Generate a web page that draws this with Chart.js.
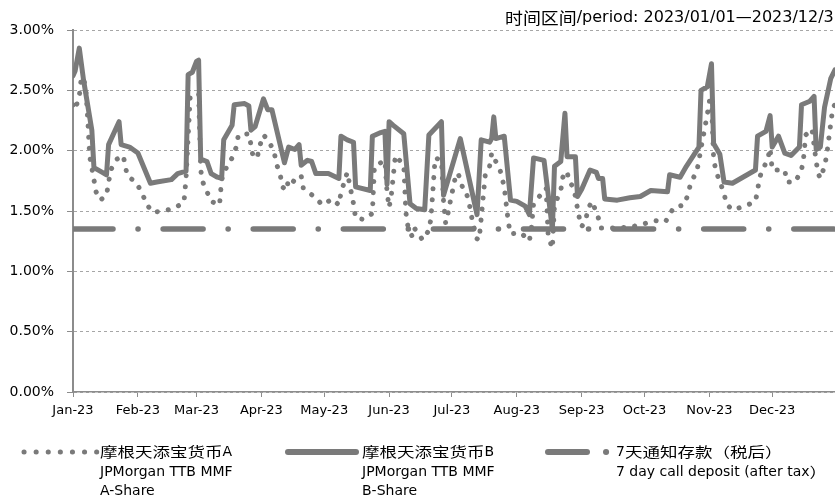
<!DOCTYPE html>
<html>
<head>
<meta charset="utf-8">
<script src="https://cdn.jsdelivr.net/npm/chart.js@4.4.1/dist/chart.umd.min.js"></script>
<style>
html, body { margin: 0; padding: 0; background: #fff; }
canvas { display: block; }
</style>
</head>
<body>
<canvas id="chart" width="835" height="498"></canvas>
<script>
// month axis (day of year 2023 where each month starts)
const monthLabels = ['Jan-23', 'Feb-23', 'Mar-23', 'Apr-23', 'May-23', 'Jun-23',
  'Jul-23', 'Aug-23', 'Sep-23', 'Oct-23', 'Nov-23', 'Dec-23'];
const monthStartDays = [0, 31, 59, 90, 120, 151, 181, 212, 243, 273, 304, 334];

// 摩根天添宝货币A - 7 day annualised yield, %
const shareADays = [0, 1, 3, 4, 6, 7, 8, 10, 11, 13, 16, 18, 21, 24, 25, 26, 30, 33, 35, 38,
  43, 48, 53, 54, 56, 60, 61, 62, 64, 66, 70, 71, 73, 76, 78, 79, 84, 85, 86, 88,
  89, 91, 93, 96, 97, 99, 100, 102, 103, 106, 109, 110, 112, 116, 119, 124, 127, 128, 131, 134,
  135, 139, 143, 144, 149, 150, 151, 152, 154, 158, 159, 160, 162, 163, 167, 170, 171, 173, 176, 177,
  178, 179, 180, 183, 184, 186, 187, 189, 190, 191, 193, 194, 197, 199, 200, 204, 206, 207, 208, 209,
  214, 218, 219, 220, 225, 226, 227, 229, 230, 233, 234, 236, 237, 239, 240, 241, 242, 243, 245, 246,
  248, 251, 252, 256, 261, 267, 272, 278, 283, 287, 292, 294, 295, 298, 299, 300, 303, 304, 305, 306,
  307, 309, 311, 312, 315, 321, 326, 327, 328, 332, 333, 334, 338, 340, 341, 345, 348, 349, 350, 353,
  355, 356, 357, 359, 360, 363, 364];
const shareAValues = [2.38, 2.34, 2.45, 2.61, 2.55, 2.27, 1.95, 1.76, 1.66, 1.59, 1.63, 1.84, 1.93, 1.96, 1.87, 1.79, 1.74, 1.65, 1.56, 1.49,
  1.50, 1.52, 1.57, 1.77, 2.45, 2.47, 1.84, 1.74, 1.66, 1.58, 1.55, 1.76, 1.85, 1.94, 2.03, 2.13, 2.14, 2.05, 1.95, 1.94,
  2.03, 2.13, 2.09, 2.00, 1.90, 1.80, 1.70, 1.67, 1.77, 1.74, 1.79, 1.69, 1.66, 1.61, 1.55, 1.60, 1.55, 1.65, 1.82, 1.56,
  1.44, 1.43, 1.48, 1.87, 1.92, 1.66, 1.53, 1.62, 1.96, 1.88, 1.49, 1.37, 1.29, 1.36, 1.26, 1.34, 1.44, 1.94, 1.92, 1.58,
  1.40, 1.47, 1.56, 1.81, 1.81, 1.70, 1.69, 1.59, 1.49, 1.40, 1.27, 1.26, 1.81, 1.87, 1.98, 1.84, 1.70, 1.55, 1.40, 1.31,
  1.32, 1.25, 1.36, 1.56, 1.67, 1.69, 1.29, 1.19, 1.55, 1.67, 1.78, 1.83, 1.74, 1.70, 1.62, 1.52, 1.43, 1.37, 1.43, 1.52,
  1.58, 1.44, 1.36, 1.36, 1.36, 1.37, 1.39, 1.42, 1.41, 1.53, 1.55, 1.65, 1.73, 1.83, 1.92, 2.02, 2.30, 2.41, 2.41, 1.94,
  1.84, 1.74, 1.65, 1.56, 1.51, 1.54, 1.58, 1.67, 1.78, 1.94, 2.02, 1.84, 1.84, 1.84, 1.74, 1.74, 1.84, 1.94, 2.13, 2.18,
  1.91, 1.81, 1.77, 1.87, 1.96, 2.36, 2.38];

// 摩根天添宝货币B
const shareBDays = [0, 1, 3, 5, 9, 10, 14, 16, 17, 22, 23, 27, 31, 37, 40, 47, 50, 54, 55, 57,
  59, 60, 61, 64, 66, 69, 71, 72, 76, 77, 82, 84, 85, 87, 91, 93, 95, 101, 103, 106,
  108, 109, 112, 114, 116, 122, 127, 128, 131, 134, 135, 142, 143, 147, 149, 150, 151, 153, 158, 161,
  164, 168, 170, 176, 177, 185, 193, 195, 199, 200, 201, 202, 206, 209, 212, 216, 218, 220, 225, 229,
  230, 233, 235, 236, 240, 241, 243, 247, 250, 251, 253, 254, 260, 266, 271, 276, 284, 285, 290, 293,
  299, 300, 303, 305, 306, 309, 311, 315, 326, 327, 331, 333, 334, 337, 340, 343, 347, 348, 352, 354,
  355, 357, 359, 362, 364];
const shareBValues = [2.62, 2.66, 2.85, 2.59, 2.17, 1.86, 1.82, 1.80, 2.05, 2.24, 2.05, 2.03, 1.98, 1.73, 1.74, 1.76, 1.81, 1.83, 2.63, 2.65,
  2.74, 2.75, 1.93, 1.91, 1.81, 1.78, 1.77, 2.09, 2.21, 2.38, 2.39, 2.37, 2.17, 2.20, 2.43, 2.34, 2.34, 1.90, 2.03, 2.01,
  2.05, 1.88, 1.92, 1.91, 1.81, 1.81, 1.77, 2.12, 2.09, 2.07, 1.70, 1.67, 2.12, 2.15, 2.16, 1.72, 2.24, 2.21, 2.14, 1.56,
  1.52, 1.51, 2.13, 2.24, 1.63, 2.10, 1.47, 2.09, 2.07, 2.10, 2.28, 2.10, 2.12, 1.59, 1.58, 1.54, 1.47, 1.94, 1.92, 1.35,
  1.87, 1.91, 2.31, 1.95, 1.95, 1.62, 1.68, 1.84, 1.82, 1.77, 1.77, 1.60, 1.59, 1.61, 1.62, 1.67, 1.66, 1.80, 1.78, 1.87,
  2.03, 2.50, 2.53, 2.72, 2.06, 1.97, 1.74, 1.73, 1.84, 2.12, 2.16, 2.29, 2.03, 2.12, 1.98, 1.96, 2.03, 2.38, 2.41, 2.45,
  2.01, 2.03, 2.36, 2.60, 2.67];

// 7天通知存款（税后）
const depositDays = [0, 364];
const depositValues = [1.35, 1.35];

const lineGrey = '#7a7a7a';
const axisGrey = '#8c8c8c';
const latinFont = "'DejaVu Sans'";
const cjkFont = "'Noto Sans CJK SC'";

function toPoints(days, values) {
  return days.map((d, i) => ({ x: d, y: values[i] }));
}

// draws latin runs as they are and CJK runs a little wider, like the source image
function drawMixed(ctx, text, x, y, size, cjkStretch) {
  const cjk = /[\u3000-\u9fff\uff00-\uffef]/;
  const runs = text.match(/[\u3000-\u9fff\uff00-\uffef]+|[^\u3000-\u9fff\uff00-\uffef]+/g);
  runs.forEach(run => {
    const isCjk = cjk.test(run);
    ctx.font = size + 'px ' + (isCjk ? cjkFont : latinFont);
    const sx = isCjk ? cjkStretch : 1;
    const w = ctx.measureText(run).width;
    ctx.save();
    ctx.translate(x, y);
    ctx.scale(sx, 1);
    ctx.fillText(run, 0, 0);
    ctx.restore();
    x += w * sx;
  });
}

function strokeLine(ctx, x1, y1, x2, y2) {
  ctx.beginPath();
  ctx.moveTo(x1, y1);
  ctx.lineTo(x2, y2);
  ctx.stroke();
}

const legendAndTitle = {
  id: 'legendAndTitle',
  afterDraw(chart) {
    const ctx = chart.ctx;
    ctx.save();
    ctx.fillStyle = '#000';
    ctx.textBaseline = 'middle';
    ctx.textAlign = 'left';
    drawMixed(ctx, '时间区间/period: 2023/01/01—2023/12/31', 505, 18, 16, 1.12);

    // legend samples
    ctx.strokeStyle = lineGrey;
    ctx.lineCap = 'round';
    ctx.lineWidth = 5;
    ctx.setLineDash([0.1, 12]);
    strokeLine(ctx, 24, 452, 97, 452);
    ctx.setLineDash([]);
    ctx.lineWidth = 6;
    strokeLine(ctx, 288, 452, 356, 452);
    strokeLine(ctx, 548, 452, 587, 452);
    strokeLine(ctx, 606, 452, 606.1, 452);

    drawMixed(ctx, '摩根天添宝货币A', 100, 452, 14, 1.25);
    drawMixed(ctx, 'JPMorgan TTB MMF', 100, 472, 14, 1.25);
    drawMixed(ctx, 'A-Share', 100, 491, 14, 1.25);
    drawMixed(ctx, '摩根天添宝货币B', 362, 452, 14, 1.25);
    drawMixed(ctx, 'JPMorgan TTB MMF', 362, 472, 14, 1.25);
    drawMixed(ctx, 'B-Share', 362, 491, 14, 1.25);
    drawMixed(ctx, '7天通知存款（税后）', 616, 452, 14, 1.25);
    drawMixed(ctx, '7 day call deposit (after tax）', 616, 472, 14, 1.25);
    ctx.restore();
  }
};

Chart.defaults.font.family = "'DejaVu Sans', 'Noto Sans CJK SC', sans-serif";

new Chart(document.getElementById('chart'), {
  type: 'line',
  data: {
    datasets: [{
      label: '摩根天添宝货币A',
      data: toPoints(shareADays, shareAValues),
      borderColor: lineGrey,
      borderWidth: 5,
      borderDash: [0.1, 11],
      borderCapStyle: 'round',
      borderJoinStyle: 'round',
      fill: false
    }, {
      label: '摩根天添宝货币B',
      data: toPoints(shareBDays, shareBValues),
      borderColor: lineGrey,
      borderWidth: 5,
      borderCapStyle: 'round',
      borderJoinStyle: 'round',
      fill: false
    }, {
      label: '7天通知存款（税后）',
      data: toPoints(depositDays, depositValues),
      borderColor: lineGrey,
      borderWidth: 5.5,
      borderDash: [40, 25, 0.1, 25],
      borderCapStyle: 'round',
      fill: false
    }]
  },
  options: {
    responsive: false,
    animation: false,
    layout: { padding: { top: 30, right: 0, bottom: 76, left: 0 } },
    elements: { point: { radius: 0 }, line: { tension: 0 } },
    plugins: { legend: { display: false }, tooltip: { enabled: false } },
    scales: {
      x: {
        type: 'linear',
        min: 0,
        max: 364,
        afterBuildTicks: s => { s.ticks = monthStartDays.map(v => ({ value: v })); },
        afterFit: s => { s.height = 30; },
        ticks: {
          autoSkip: false,
          maxRotation: 0,
          padding: 6,
          color: '#000',
          font: { size: 13 },
          callback: v => monthLabels[monthStartDays.indexOf(v)]
        },
        grid: { drawOnChartArea: false, drawTicks: true, tickLength: 5, tickColor: axisGrey },
        border: { color: axisGrey, width: 1.5 }
      },
      y: {
        min: 0,
        max: 3,
        afterFit: s => { s.width = 73; },
        ticks: {
          stepSize: 0.5,
          padding: 13,
          color: '#000',
          font: { size: 14 },
          callback: v => v.toFixed(2) + '%'
        },
        grid: { color: '#a6a6a6', lineWidth: 1, tickLength: 6, tickColor: axisGrey },
        border: { color: axisGrey, width: 2, dash: [3, 3] }
      }
    }
  },
  plugins: [legendAndTitle]
});
</script>
</body>
</html>
